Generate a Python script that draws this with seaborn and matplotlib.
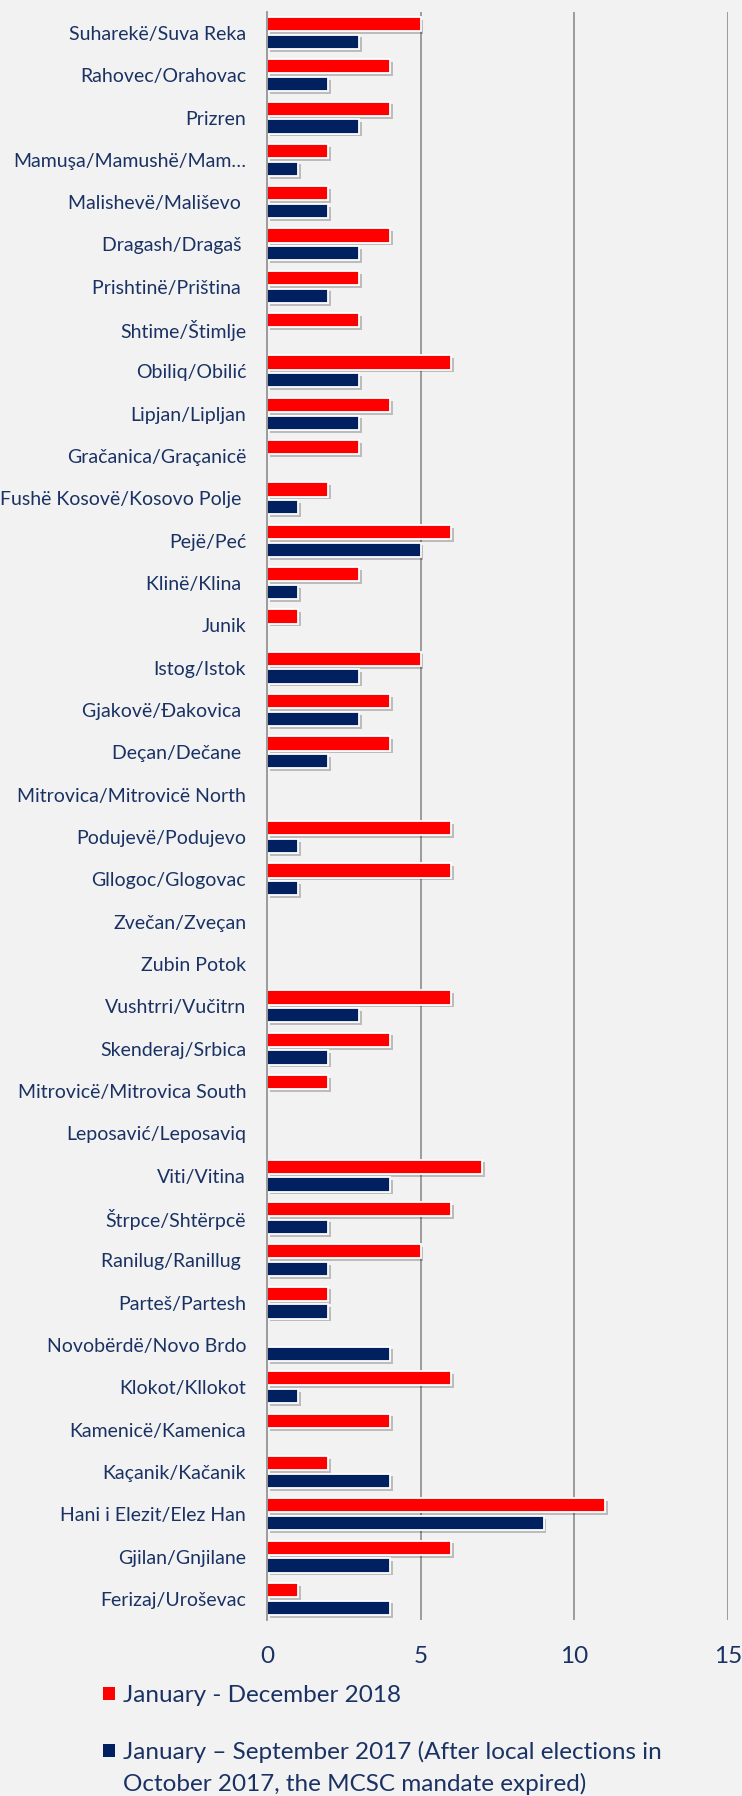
import matplotlib
matplotlib.use("Agg")
import matplotlib.pyplot as plt
import matplotlib.patheffects as pe
from matplotlib.patches import Patch
import seaborn as sns
import pandas as pd

municipalities = [
    "Suharekë/Suva Reka", "Rahovec/Orahovac", "Prizren", "Mamuşa/Mamushë/Mam…",
    "Malishevë/Mališevo ", "Dragash/Dragaš ", "Prishtinë/Priština ", "Shtime/Štimlje",
    "Obiliq/Obilić", "Lipjan/Lipljan", "Gračanica/Graçanicë", "Fushë Kosovë/Kosovo Polje ",
    "Pejë/Peć", "Klinë/Klina ", "Junik", "Istog/Istok", "Gjakovë/Đakovica ",
    "Deçan/Dečane ", "Mitrovica/Mitrovicë North", "Podujevë/Podujevo", "Gllogoc/Glogovac",
    "Zvečan/Zveçan", "Zubin Potok", "Vushtrri/Vučitrn", "Skenderaj/Srbica",
    "Mitrovicë/Mitrovica South", "Leposavić/Leposaviq", "Viti/Vitina", "Štrpce/Shtërpcë",
    "Ranilug/Ranillug ", "Parteš/Partesh", "Novobërdë/Novo Brdo", "Klokot/Kllokot",
    "Kamenicë/Kamenica", "Kaçanik/Kačanik", "Hani i Elezit/Elez Han", "Gjilan/Gnjilane",
    "Ferizaj/Uroševac",
]
values_2018 = [5, 4, 4, 2, 2, 4, 3, 3, 6, 4, 3, 2, 6, 3, 1, 5, 4, 4, 0, 6, 6, 0, 0,
               6, 4, 2, 0, 7, 6, 5, 2, 0, 6, 4, 2, 11, 6, 1]
values_2017 = [3, 2, 3, 1, 2, 3, 2, 0, 3, 3, 0, 1, 5, 1, 0, 3, 3, 2, 0, 1, 1, 0, 0,
               3, 2, 0, 0, 4, 2, 2, 2, 4, 1, 0, 4, 9, 4, 4]
series_labels = ["January - December 2018",
                 "January – September 2017 (After local elections in"]
legend_continuation = "October 2017, the MCSC mandate expired)"
x_ticks = [0, 5, 10, 15]

RED = "#ff0000"
NAVY = "#002060"
TEXT = "#1a3263"
BG = "#f2f2f2"
GRID = "#8c8c8c"

df = pd.DataFrame({
    "Municipality": municipalities * 2,
    "Count": values_2018 + values_2017,
    "Period": [series_labels[0]] * len(municipalities) + [series_labels[1]] * len(municipalities),
})

sns.set_theme(style="white")
plt.rcParams["font.family"] = ["Lato", "DejaVu Sans"]

fig = plt.figure(figsize=(7.42, 17.96), dpi=100, facecolor=BG)
ax = fig.add_axes([267 / 742, 1 - 1620 / 1796, (728 - 267) / 742, (1620 - 11.7) / 1796])
ax.set_facecolor(BG)

sns.barplot(data=df, y="Municipality", x="Count", hue="Period", orient="h",
            palette=[RED, NAVY], saturation=1, width=0.84, gap=0.2, edgecolor="white",
            linewidth=1.3, legend=False, ax=ax)

for p in ax.patches:
    if p.get_width() == 0:
        p.set_visible(False)
    else:
        p.set_path_effects([pe.SimplePatchShadow(offset=(2, -2), shadow_rgbFace="black", alpha=0.22),
                            pe.Normal()])

ax.set_xlim(0, 15)
ax.set_xticks(x_ticks)
ax.set_xticklabels([str(t) for t in x_ticks])
ax.set_ylim(len(municipalities) - 0.5, -0.5)
for t in x_ticks[1:]:
    ax.axvline(t, color=GRID, lw=1.2, zorder=0)
for s in ["top", "right", "bottom"]:
    ax.spines[s].set_visible(False)
ax.spines["left"].set_color(GRID)
ax.spines["left"].set_linewidth(1.2)
ax.set_xlabel("")
ax.set_ylabel("")
ax.tick_params(axis="y", length=0, pad=15, labelsize=14, labelcolor=TEXT)
ax.tick_params(axis="x", length=0, pad=19, labelsize=17.5, labelcolor=TEXT)

handles = [Patch(facecolor=RED, edgecolor="none"), Patch(facecolor=NAVY, edgecolor="none")]
leg_kw = dict(loc="center left", frameon=False, fontsize=17.5, labelcolor=TEXT,
              handlelength=0.5, handleheight=0.45, handletextpad=0.33,
              borderpad=0, borderaxespad=0)
leg1 = fig.legend([handles[0]], [series_labels[0]],
                  bbox_to_anchor=(102.5 / 742, 1 - 1696 / 1796), **leg_kw)
leg2 = fig.legend([handles[1]], [series_labels[1]],
                  bbox_to_anchor=(102.5 / 742, 1 - 1752 / 1796), **leg_kw)
fig.text(122.7 / 742, 1 - 1791 / 1796, legend_continuation, fontsize=17.5, color=TEXT,
         ha="left", va="baseline")

fig.savefig("out.png", dpi=100, facecolor=BG)
